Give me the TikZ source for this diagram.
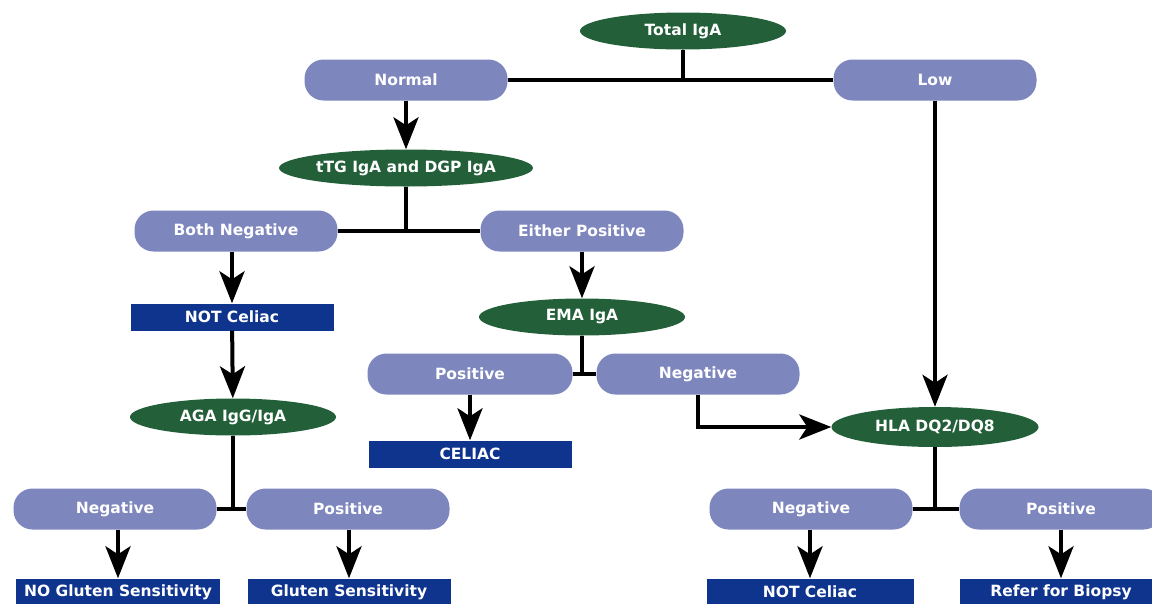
\documentclass[tikz,border=0pt]{standalone}
\usepackage{fontspec}
\setmainfont{DejaVu Sans}
\usetikzlibrary{arrows.meta,positioning,shapes.geometric}
\definecolor{pillblue}{HTML}{7E86BE}
\definecolor{testgreen}{HTML}{23603A}
\definecolor{resblue}{HTML}{0E348E}
\tikzset{
  font=\fontsize{15.5}{18}\selectfont\bfseries,
  pill/.style   ={fill=pillblue, text=white, rounded corners=19pt, minimum height=41pt, minimum width=203pt, inner sep=0pt, align=center},
  test/.style   ={ellipse, fill=testgreen, text=white, minimum height=37pt, minimum width=206pt, inner sep=0pt, align=center},
  result/.style ={fill=resblue, text=white, minimum height=27pt, minimum width=203pt, inner sep=0pt, align=center},
  arr/.style    ={-{Stealth[length=32pt,width=25pt,inset=8pt]}, line width=4pt},
  conn/.style   ={line width=3.5pt},
}
\begin{document}
\begin{tikzpicture}[x=1pt,y=-1pt]
  \useasboundingbox (0,0) rectangle (1152,603);
  % IgA level
  \node[test] (tiga) at (683,31) {Total IgA};
  \node[pill] (normal) at (406,80) {Normal};
  \node[pill] (low) at (935,80) {Low};
  % serology
  \node[test, minimum width=217pt] (ttg) at (406,168) {tTG IgA and DGP IgA};
  \node[pill] (bneg) at (236,231) {Both Negative};
  \node[pill] (epos) at (582,231) {Either Positive};
  \node[result] (notc1) at (232,317) {NOT Celiac};
  \node[test] (ema) at (582,317) {EMA IgA};
  \node[pill, minimum width=205pt] (emapos) at (470,374) {Positive};
  \node[pill] (emaneg) at (698,374) {Negative};
  \node[result] (celiac) at (470,454) {CELIAC};
  % gluten sensitivity
  \node[test] (aga) at (233,417) {AGA IgG/IgA};
  \node[pill] (aganeg) at (115,509) {Negative};
  \node[pill] (agapos) at (348,509) {Positive};
  \node[result, minimum width=204pt] (nogs) at (118,592) {NO Gluten Sensitivity};
  \node[result] (gs) at (349,592) {Gluten Sensitivity};
  % genetics
  \node[test, minimum width=207pt, minimum height=40pt] (hla) at (935,427) {HLA DQ2/DQ8};
  \node[pill] (hlaneg) at (811,509) {Negative};
  \node[pill] (hlapos) at (1061,509) {Positive};
  \node[result, minimum width=207pt] (notc2) at (810,592) {NOT Celiac};
  \node[result] (biopsy) at (1061,592) {Refer for Biopsy};

  \draw[conn] (normal.east) -- (low.west);
  \draw[conn] (tiga.south) -- (tiga.south |- normal.east);
  \draw[arr] (normal) -- (ttg);
  \draw[arr] (low) -- (hla);
  \draw[conn] (bneg.east) -- (epos.west);
  \draw[conn] (ttg.south) -- (ttg.south |- bneg.east);
  \draw[arr] (bneg.south -| notc1) -- (notc1);
  \draw[arr] (epos) -- (ema);
  \draw[conn] (emapos.east) -- (emaneg.west);
  \draw[conn] (ema.south) -- (ema.south |- emapos.east);
  \draw[arr] (emapos) -- (celiac);
  \draw[arr] (emaneg.south) |- (hla.west);
  \draw[arr] (notc1) -- (aga);
  \draw[conn] (aganeg.east) -- (agapos.west);
  \draw[conn] (aga.south) -- (aga.south |- aganeg.east);
  \draw[arr] (aganeg.south -| nogs) -- (nogs);
  \draw[arr] (agapos.south -| gs) -- (gs);
  \draw[conn] (hlaneg.east) -- (hlapos.west);
  \draw[conn] (hla.south) -- (hla.south |- hlaneg.east);
  \draw[arr] (hlaneg.south -| notc2) -- (notc2);
  \draw[arr] (hlapos.south -| biopsy) -- (biopsy);
\end{tikzpicture}
\end{document}
